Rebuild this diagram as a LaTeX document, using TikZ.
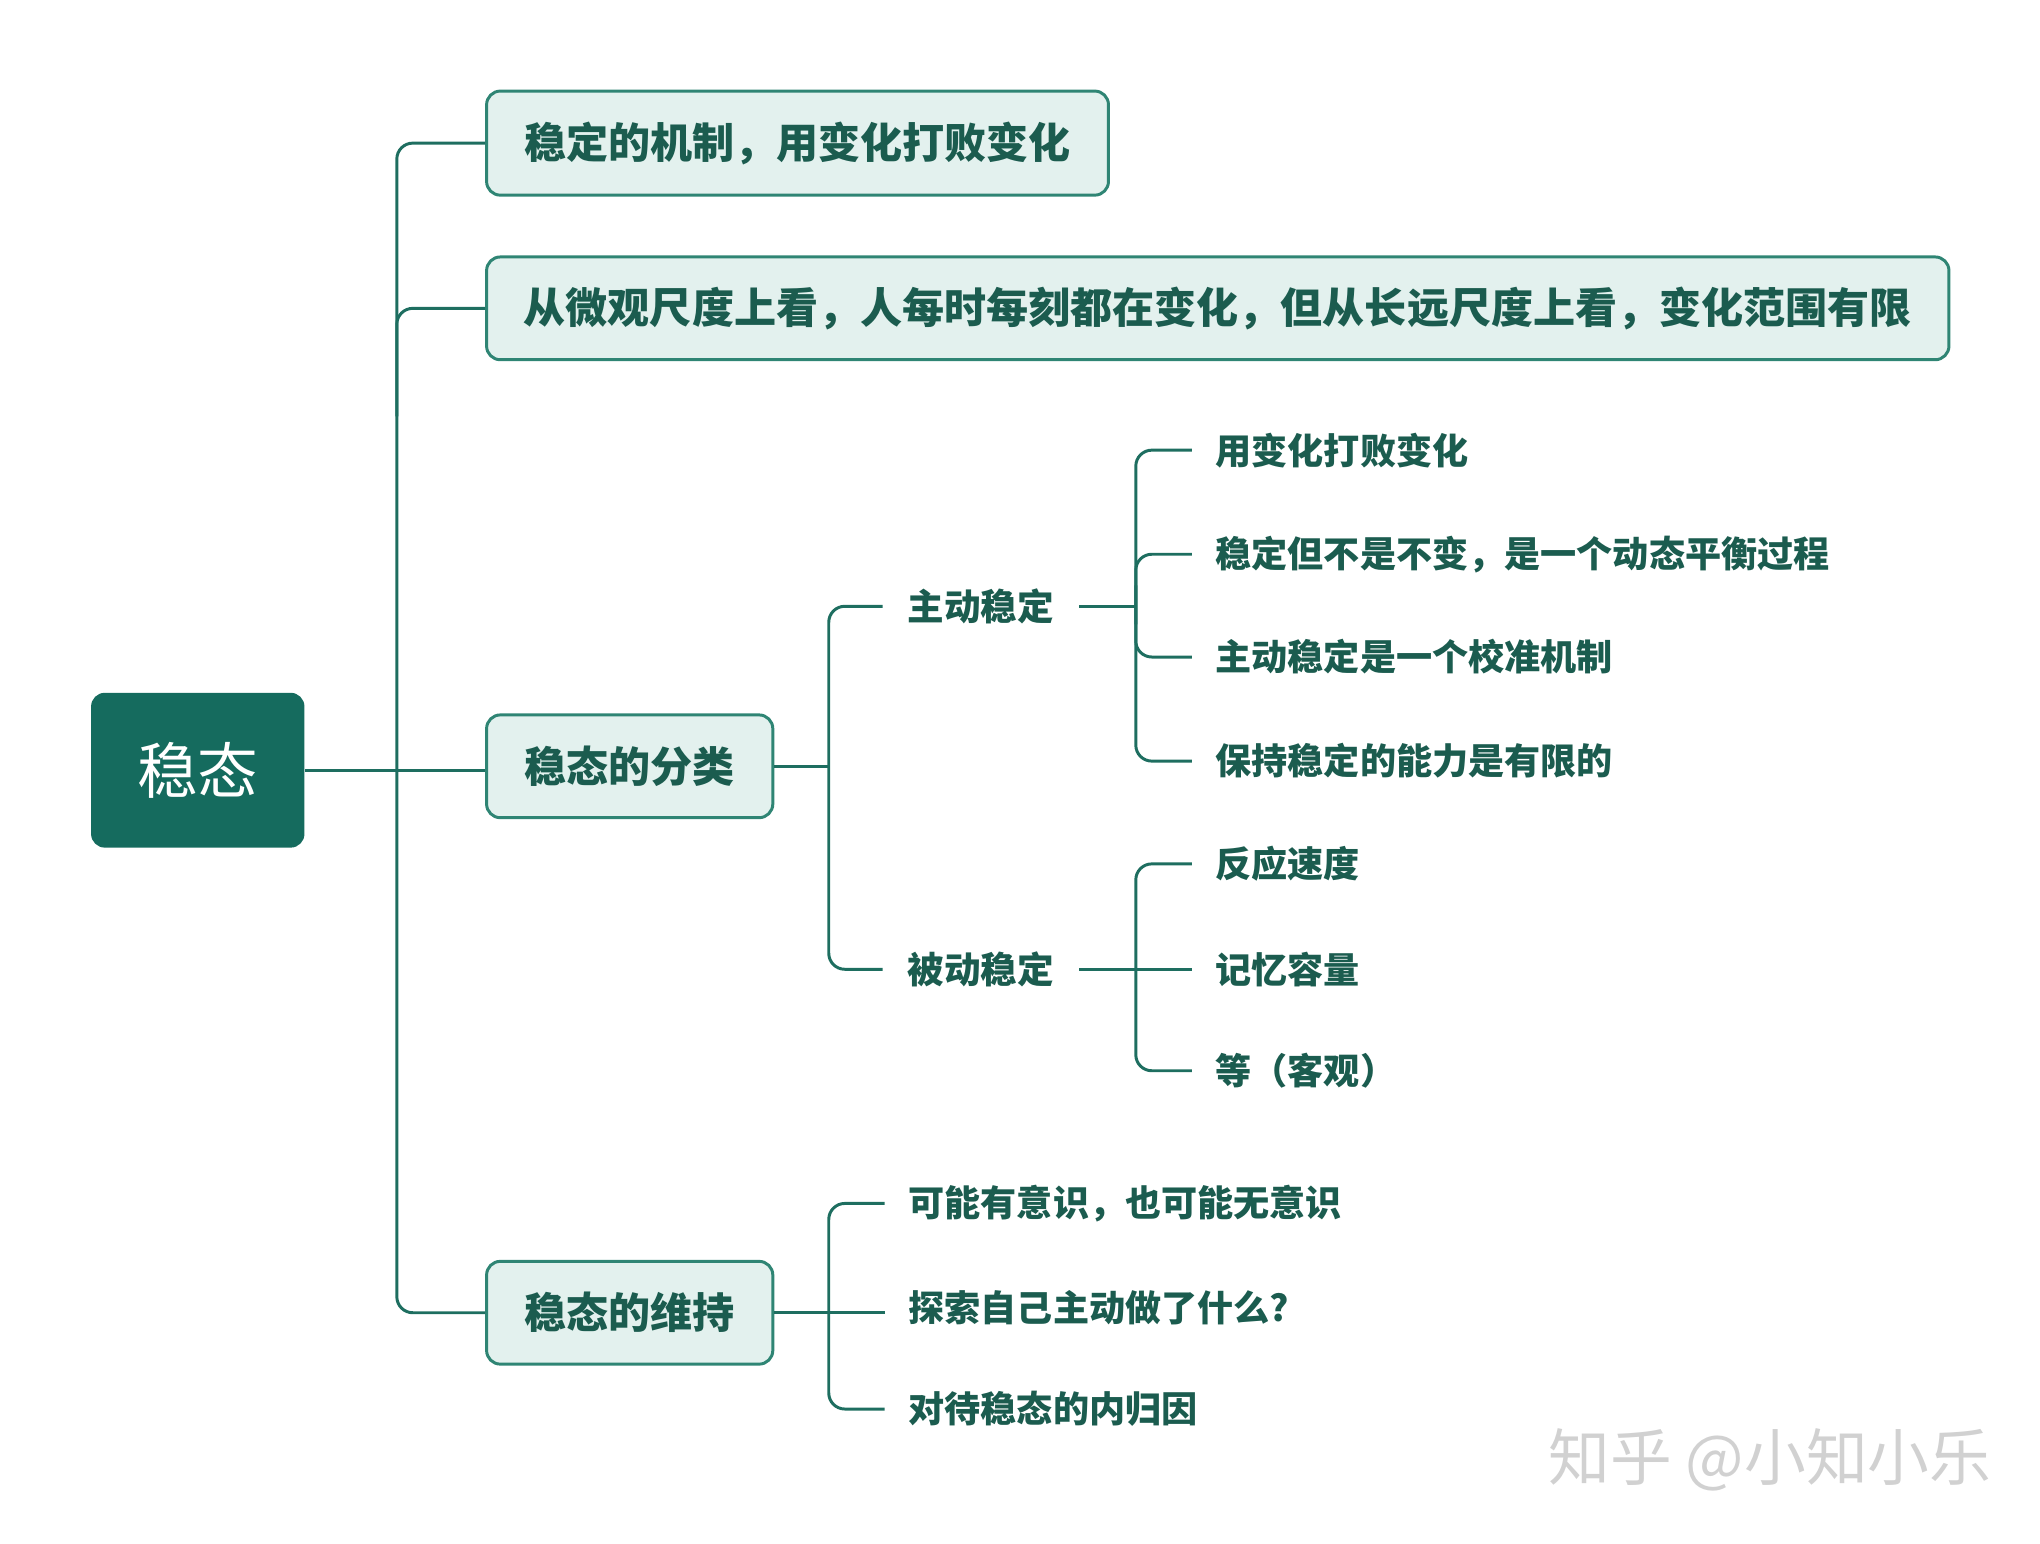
\documentclass[tikz,border=0pt]{standalone}
\usepackage{fontspec}
\setmainfont{Noto Sans CJK SC}
\begin{document}
\begin{tikzpicture}[x=0.02cm,y=-0.02cm,
  ln/.style={draw=lc,line width=1.3pt,rounded corners=7pt},
  box/.style={draw=bd,fill=bf,line width=1.3pt,rounded corners=6pt,text=tc,font=\bfseries\fontsize{18.4}{21}\selectfont,inner sep=0pt},
  l2/.style={text=tc,font=\bfseries\fontsize{16}{19}\selectfont,inner xsep=0.38cm,inner ysep=2pt},
  leaf/.style={text=tc,font=\bfseries\fontsize{15.8}{19}\selectfont,anchor=west,inner xsep=0.36cm,inner ysep=2pt}]
\definecolor{lc}{HTML}{1E6E60}
\definecolor{bd}{HTML}{2F8574}
\definecolor{bf}{HTML}{E3F1EE}
\definecolor{tc}{HTML}{1B5C4F}
\definecolor{rt}{HTML}{156B5E}
\useasboundingbox (0,0) rectangle (1568,1186);
\node[fill=rt,rounded corners=6pt,minimum width=164*0.02cm,minimum height=119*0.02cm,text=white,font=\fontsize{26.5}{30}\selectfont] (root) at (152,592) {稳态};
\node[box,minimum width=478*0.02cm,minimum height=80*0.02cm] (b1) at (613,110) {稳定的机制，用变化打败变化};
\node[box,minimum width=1124*0.02cm,minimum height=79*0.02cm] (b2) at (936,237) {从微观尺度上看，人每时每刻都在变化，但从长远尺度上看，变化范围有限};
\node[box,minimum width=220*0.02cm,minimum height=79*0.02cm] (b3) at (484,589) {稳态的分类};
\node[box,minimum width=220*0.02cm,minimum height=79*0.02cm] (b4) at (484,1009) {稳态的维持};
\coordinate (t1) at (305,110); \coordinate (t4) at (305,1009);
\coordinate (t2) at (305,237); \coordinate (t2b) at (305,320);
\coordinate (tr) at (305,592);
\draw[ln] (b1.west) -- (t1) -- (t4) -- (b4.west);
\draw[ln] (b2.west) -- (t2) -- (t2b);
\draw[ln] (root.east) -- (tr) -- (tr-|b3.west);
\node[l2] (a) at (754,466) {主动稳定};
\node[l2] (p) at (754,745) {被动稳定};
\coordinate (c3) at (637,589);
\draw[ln] (b3.east) -- (c3);
\draw[ln] (a.west) -- (637,466) -- (637,745) -- (p.west);
\node[leaf] (a1) at (916,346) {用变化打败变化};
\node[leaf] (a2) at (916,426) {稳定但不是不变，是一个动态平衡过程};
\node[leaf] (a3) at (916,505) {主动稳定是一个校准机制};
\node[leaf] (a4) at (916,585) {保持稳定的能力是有限的};
\draw[ln] (a.east) -- (873,466);
\draw[ln] (a1.west) -- (873,346) -- (873,585) -- (a4.west);
\draw[ln] (a2.west) -- (873,426) -- (873,480);
\draw[ln] (a3.west) -- (873,505) -- (873,450);
\node[leaf] (p1) at (916,664) {反应速度};
\node[leaf] (p2) at (916,745) {记忆容量};
\node[leaf] (p3) at (916,823) {等（客观）};
\draw[ln] (p.east) -- (p2.west);
\draw[ln] (p1.west) -- (873,664) -- (873,823) -- (p3.west);
\node[leaf] (m1) at (680,925) {可能有意识，也可能无意识};
\node[leaf] (m2) at (680,1005) {探索自己主动做了什么?};
\node[leaf] (m3) at (680,1083) {对待稳态的内归因};
\coordinate (m2c) at (680,1009);
\draw[ln] (b4.east) -- (m2c);
\draw[ln] (m1.west) -- (637,925) -- (637,1083) -- (m3.west);
\node[text=black!18,font=\fontsize{27}{30}\selectfont,anchor=west,inner sep=0pt] (wm) at (1190,1122) {知乎 @小知小乐};
\end{tikzpicture}
\end{document}
